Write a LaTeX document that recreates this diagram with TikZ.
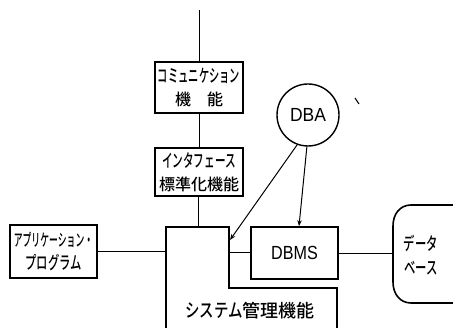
\documentclass[tikz,border=0pt]{standalone}
\usepackage{fontspec}
\newfontfamily\jp{Noto Sans CJK JP}[BoldFont={* Medium}]
\newfontfamily\lat{Liberation Sans}
\usetikzlibrary{arrows.meta}
\newcommand\nar[3]{{\jp\bfseries\fontsize{#1}{#1}\selectfont\addfontfeatures{FakeStretch=#2}#3}}
\newcommand\latn[3]{{\lat\fontsize{#1}{#1}\selectfont\addfontfeatures{FakeStretch=#2}#3}}
\begin{document}
\begin{tikzpicture}[x=1pt,y=-1pt,
  box/.style={draw,line width=1.6pt,inner sep=0pt,align=center,font=\jp\fontsize{15}{23}\selectfont},
  conn/.style={line width=1pt},
  arr/.style={line width=1pt,-{Stealth[length=6pt,width=4.5pt]}},
  heavy/.style={line width=1.6pt}]
\useasboundingbox (0,0) rectangle (453,328);
% boxes
\node[box,minimum width=88pt,minimum height=51pt] (comm) at (199,87.5)
  {\nar{18}{0.57}{コミュニケション}\\\nar{16}{1}{機\hspace{1em}能}};
\node[box,minimum width=88pt,minimum height=48pt] (intf) at (199,172)
  {\nar{18}{0.59}{インタフェース}\\\nar{16}{1}{標準化機能}};
\node[box,minimum width=87pt,minimum height=53pt] (app) at (53.5,251.5)
  {\nar{17}{0.52}{アプリケーション・}\\\nar{18}{0.63}{プログラム}};
\node[box,minimum width=87pt,minimum height=52pt] (dbms) at (294.5,253)
  {\latn{19}{0.85}{DBMS}};
\node[draw,line width=1.4pt,circle,minimum size=62pt,inner sep=0pt] (dba) at (308,115)
  {\latn{19}{0.92}{DBA}};
% system management box (L-shaped, open at bottom)
\draw[heavy] (166,330) -- (166,227) -- (229,227) -- (229,288) -- (337,288) -- (337,330);
\node[font=\jp\fontsize{18}{18}\selectfont] (sys) at (250,311)
  {\nar{19}{0.76}{システム}\nar{18}{1}{管理機能}};
\coordinate (sysL) at (166,252);
\coordinate (sysT) at (198,227);
\coordinate (sysC) at (230,240);
\coordinate (sysR) at (229,253);
% database drum
\draw[heavy] (455,205) -- (411,205) .. controls (400,205) and (393,214) .. (393,226)
  -- (393,282) .. controls (393,294) and (400,303) .. (411,303) -- (455,303);
\node[font=\jp\fontsize{15}{24}\selectfont,align=center] (db) at (421,255)
  {\nar{18}{0.63}{データ}\\\nar{18}{0.63}{ベース}};
\coordinate (dbW) at (393,254);
\coordinate (top) at (199,10);
% connectors
\draw[conn] (top) -- (comm.north);
\draw[conn] (comm.south) -- (intf.north);
\draw[conn] (intf.south -| sysT) -- (sysT);
\draw[conn] (app.east |- sysL) -- (sysL);
\draw[conn] (sysR) -- (dbms.west |- sysR);
\draw[conn] (dbms.east |- dbW) -- (dbW);
\draw[arr] (dba.250) -- (sysC);
\draw[arr] (dba.268) -- (dbms.north -| 299,0);
% stray tick
\coordinate (t1) at (355,98);
\coordinate (t2) at (359,104);
\draw[line width=1pt] (t1) -- (t2);
\end{tikzpicture}
\end{document}
